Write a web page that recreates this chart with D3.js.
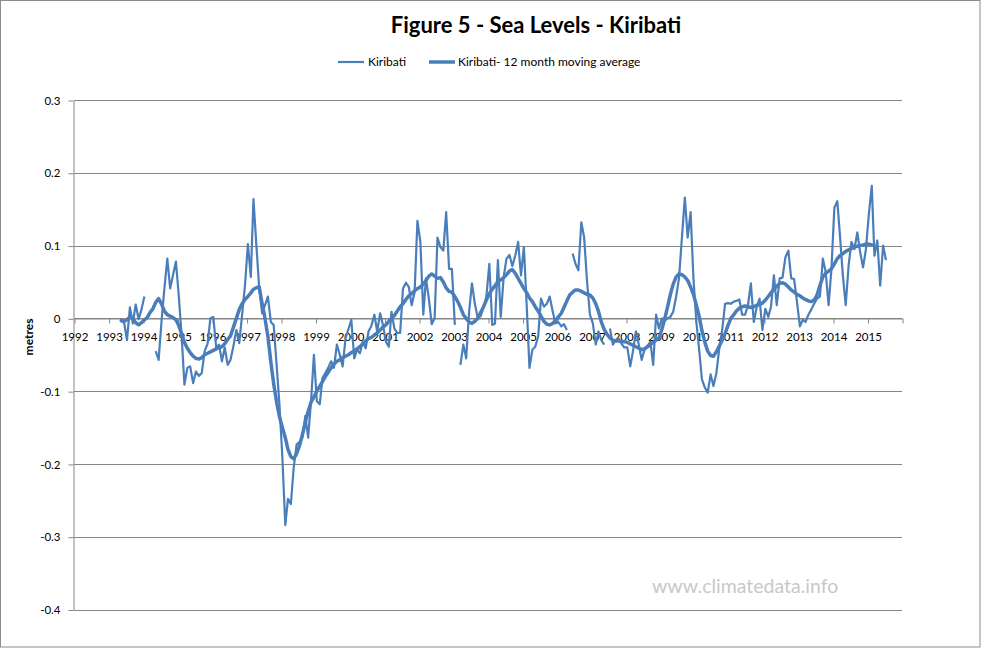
<!DOCTYPE html>
<html>
<head>
<meta charset="utf-8">
<script src="https://cdn.jsdelivr.net/npm/d3@7"></script>
<style>
body { margin: 0; background: #fff; }
svg text { font-family: Lato, "Open Sans", sans-serif; fill: #000; }
</style>
</head>
<body>
<div id="chart"></div>
<script>
// x axis labels (years) and y axis ticks
var years = [1992, 1993, 1994, 1995, 1996, 1997, 1998, 1999, 2000, 2001, 2002, 2003,
             2004, 2005, 2006, 2007, 2008, 2009, 2010, 2011, 2012, 2013, 2014, 2015];
var yTicks = [0.3, 0.2, 0.1, 0, -0.1, -0.2, -0.3, -0.4];

// monthly series, first value is May 1993, null = missing month
var firstYear = 1993, firstMonth = 4;

var kiribati = [
    -0.004, -0.006, -0.030, 0.015, -0.007, 0.019, -0.001, 0.012,                      // 1993
    0.030, null, null, null, -0.045, -0.057, -0.005, 0.041, 0.082, 0.041, 0.060, 0.078,   // 1994
    0.030, -0.027, -0.091, -0.068, -0.066, -0.089, -0.073, -0.079, -0.075, -0.045, -0.035, 0.000,
    0.002, -0.041, -0.036, -0.059, -0.040, -0.064, -0.057, -0.038, -0.016, -0.034, 0.005, 0.045,
    0.102, 0.057, 0.164, 0.100, 0.041, 0.007, 0.018, 0.030, -0.005, -0.009, -0.064, -0.118,
    -0.191, -0.284, -0.248, -0.255, -0.205, -0.173, -0.170, -0.164, -0.134, -0.164, -0.113, -0.050,
    -0.114, -0.118, -0.082, -0.075, -0.068, -0.059, -0.068, -0.036, -0.050, -0.066, -0.027, -0.015,
    -0.002, -0.055, -0.043, -0.048, -0.032, -0.041, -0.018, -0.010, 0.005, -0.018, 0.007, -0.009,
    -0.032, -0.039, 0.009, -0.014, -0.020, -0.020, 0.041, 0.049, 0.043, 0.018, 0.036, 0.134,
    0.105, 0.005, 0.055, 0.027, -0.008, 0.000, 0.111, 0.098, 0.093, 0.146, 0.068, 0.068,
    -0.009, null, -0.064, -0.036, -0.055, 0.009, 0.048, 0.020, 0.000, 0.003, 0.015, 0.030,
    0.075, -0.009, -0.007, 0.080, 0.002, 0.057, 0.082, 0.087, 0.072, 0.086, 0.105, 0.059,
    0.098, 0.014, -0.068, -0.043, -0.039, -0.025, 0.027, 0.016, 0.020, 0.030, 0.010, -0.007,
    -0.005, -0.011, -0.008, -0.016, null, 0.089, 0.075, 0.066, 0.132, 0.111, 0.050, 0.005,
    -0.007, -0.036, -0.018, -0.030, -0.036, null, -0.014, -0.036, -0.030, -0.028, -0.035, -0.040,
    -0.040, -0.066, -0.045, -0.018, -0.036, -0.057, -0.043, -0.038, -0.032, -0.064, 0.005, -0.014,
    0.000, -0.003, 0.000, 0.002, 0.009, 0.030, 0.055, 0.111, 0.166, 0.111, 0.146, 0.055,
    -0.005, -0.045, -0.084, -0.095, -0.102, -0.077, -0.093, -0.075, -0.041, -0.016, 0.020, 0.021,
    0.020, 0.023, 0.024, 0.026, 0.005, 0.005, 0.018, 0.048, -0.005, 0.015, 0.027, -0.016,
    0.013, 0.002, 0.016, 0.059, 0.018, 0.055, 0.056, 0.084, 0.093, 0.055, 0.054, 0.023,
    -0.011, -0.002, -0.005, 0.005, 0.012, 0.020, 0.027, 0.030, 0.082, 0.064, 0.018, 0.068,
    0.152, 0.161, 0.114, 0.059, 0.018, 0.073, 0.105, 0.095, 0.118, 0.091, 0.070, 0.095,
    0.143, 0.182, 0.086, 0.107, 0.045, 0.100, 0.080                                      // 2015
];

var kiribatiAvg = [
    -0.003, -0.004, -0.002, 0.002, 0.000, -0.006, -0.009, -0.006,                       // 1993
    -0.002, 0.001, 0.008, 0.013, 0.022, 0.027, 0.020, 0.010, 0.005, 0.003, 0.001, -0.002,
    -0.010, -0.022, -0.033, -0.041, -0.047, -0.052, -0.055, -0.056, -0.054, -0.050, -0.048, -0.046,
    -0.044, -0.042, -0.040, -0.039, -0.035, -0.029, -0.024, -0.012, 0.000, 0.012, 0.020, 0.026,
    0.030, 0.035, 0.040, 0.042, 0.043, 0.020, 0.000, -0.025, -0.060, -0.090, -0.115, -0.135,
    -0.150, -0.164, -0.180, -0.190, -0.193, -0.186, -0.175, -0.160, -0.143, -0.128, -0.115, -0.108,
    -0.100, -0.093, -0.087, -0.080, -0.074, -0.068, -0.063, -0.059, -0.057, -0.054, -0.052, -0.050,
    -0.047, -0.045, -0.042, -0.039, -0.035, -0.031, -0.028, -0.026, -0.023, -0.020, -0.016, -0.012,
    -0.009, -0.004, 0.000, 0.004, 0.010, 0.016, 0.020, 0.026, 0.031, 0.034, 0.038, 0.041,
    0.043, 0.047, 0.052, 0.058, 0.061, 0.058, 0.055, 0.056, 0.050, 0.042, 0.037, 0.036,
    0.030, 0.023, 0.015, 0.005, 0.000, -0.005, -0.007, -0.004, 0.000, 0.008, 0.016, 0.025,
    0.034, 0.040, 0.045, 0.050, 0.053, 0.056, 0.060, 0.065, 0.067, 0.062, 0.055, 0.048,
    0.041, 0.035, 0.028, 0.023, 0.016, 0.010, 0.003, -0.004, -0.008, -0.009, -0.007, -0.003,
    0.002, 0.007, 0.015, 0.024, 0.032, 0.036, 0.039, 0.039, 0.037, 0.035, 0.033, 0.032,
    0.028, 0.020, 0.010, -0.005, -0.015, -0.022, -0.027, -0.030, -0.031, -0.031, -0.032, -0.032,
    -0.033, -0.035, -0.037, -0.039, -0.041, -0.043, -0.042, -0.039, -0.036, -0.033, -0.030, -0.027,
    -0.015, 0.000, 0.015, 0.033, 0.047, 0.057, 0.061, 0.060, 0.057, 0.052, 0.043, 0.033,
    0.018, 0.002, -0.017, -0.033, -0.045, -0.051, -0.052, -0.046, -0.038, -0.030, -0.021, -0.010,
    0.000, 0.005, 0.010, 0.014, 0.016, 0.017, 0.016, 0.015, 0.016, 0.018, 0.019, 0.021,
    0.025, 0.030, 0.035, 0.040, 0.044, 0.048, 0.049, 0.047, 0.043, 0.039, 0.036, 0.033,
    0.031, 0.028, 0.026, 0.024, 0.023, 0.025, 0.032, 0.045, 0.057, 0.062, 0.065, 0.068,
    0.075, 0.082, 0.086, 0.089, 0.092, 0.094, 0.096, 0.098, 0.099, 0.100, 0.101, 0.102,
    0.102, 0.101                                                                          // 2015
];

var lineColor = '#4a7ebb';
var gridColor = '#868686';

var width = 981, height = 648;

var svg = d3.select('#chart')
    .append('svg')
    .attr('width', width)
    .attr('height', height);

// chart frame
svg.append('rect')
    .attr('x', 0.5).attr('y', 0.5)
    .attr('width', width - 1.5).attr('height', height - 1.5)
    .attr('fill', '#fff')
    .attr('stroke', '#8c8c8c');

var x = d3.scaleTime()
    .domain([new Date(1992, 0, 1), new Date(2016, 0, 1)])
    .range([74, 902]);

var y = d3.scaleLinear()
    .domain([-0.4, 0.3])
    .range([609.5, 100]);

function toPoints(arr){
    return arr.map(function(v, i){
        return {date: new Date(firstYear, firstMonth + i, 15), value: v};
    });
}

// horizontal gridlines
svg.append('g')
    .selectAll('line')
    .data(yTicks)
    .enter()
    .append('line')
    .attr('x1', 74).attr('x2', 902)
    .attr('y1', function(d){ return Math.round(y(d)) + 0.5; })
    .attr('y2', function(d){ return Math.round(y(d)) + 0.5; })
    .attr('stroke', gridColor)
    .attr('stroke-width', 1);

// y axis
var yAxis = svg.append('g')
    .attr('transform', 'translate(73.5,0.5)')
    .call(d3.axisLeft(y)
        .tickValues(yTicks)
        .tickSize(5)
        .tickSizeOuter(0)
        .tickPadding(8)
        .tickFormat(function(d){ return String(d); }));

// x axis sits on the zero line
var xTickDates = years.concat([2016]).map(function(yr){ return new Date(yr, 0, 1); });
var xAxis = svg.append('g')
    .attr('transform', 'translate(0.5,' + (Math.round(y(0)) + 0.5) + ')')
    .call(d3.axisBottom(x)
        .tickValues(xTickDates)
        .tickSize(5)
        .tickSizeOuter(0)
        .tickPadding(9)
        .tickFormat(function(d){
            var yr = d.getFullYear();
            return years.indexOf(yr) >= 0 ? String(yr) : '';
        }));

[yAxis, xAxis].forEach(function(ax){
    ax.select('.domain').attr('stroke', gridColor);
    ax.selectAll('.tick line').attr('stroke', gridColor);
    ax.selectAll('.tick text')
        .attr('fill', '#000')
        .style('font-size', '11.5px')
        .style('font-family', 'Lato, "Open Sans", sans-serif');
});

// series
var line = d3.line()
    .defined(function(d){ return d.value !== null; })
    .x(function(d){ return x(d.date); })
    .y(function(d){ return y(d.value); });

svg.append('path')
    .datum(toPoints(kiribati))
    .attr('fill', 'none')
    .attr('stroke', lineColor)
    .attr('stroke-width', 2.2)
    .attr('stroke-linejoin', 'round')
    .attr('d', line);

svg.append('path')
    .datum(toPoints(kiribatiAvg))
    .attr('fill', 'none')
    .attr('stroke', lineColor)
    .attr('stroke-width', 3.5)
    .attr('stroke-linejoin', 'round')
    .attr('stroke-linecap', 'round')
    .attr('d', line);

// title
svg.append('text')
    .attr('x', 536)
    .attr('y', 33)
    .attr('text-anchor', 'middle')
    .style('font-size', '22px')
    .style('font-weight', 'bold')
    .text('Figure 5 - Sea Levels - Kiribati');

// legend
var legend = svg.append('g');
legend.append('line')
    .attr('x1', 338).attr('x2', 364)
    .attr('y1', 62).attr('y2', 62)
    .attr('stroke', lineColor).attr('stroke-width', 2.2);
legend.append('text')
    .attr('x', 368).attr('y', 66)
    .style('font-size', '12px')
    .text('Kiribati');
legend.append('line')
    .attr('x1', 429).attr('x2', 455)
    .attr('y1', 62).attr('y2', 62)
    .attr('stroke', lineColor).attr('stroke-width', 3.5);
legend.append('text')
    .attr('x', 458).attr('y', 66)
    .style('font-size', '12px')
    .text('Kiribati- 12 month moving average');

// y axis title
svg.append('text')
    .attr('transform', 'translate(33,337) rotate(-90)')
    .attr('text-anchor', 'middle')
    .style('font-size', '12px')
    .style('font-weight', 'bold')
    .text('metres');

// watermark
svg.append('text')
    .attr('x', 652)
    .attr('y', 593)
    .style('font-size', '19.5px')
    .style('fill', '#c8c8c8')
    .text('www.climatedata.info');
</script>
</body>
</html>
